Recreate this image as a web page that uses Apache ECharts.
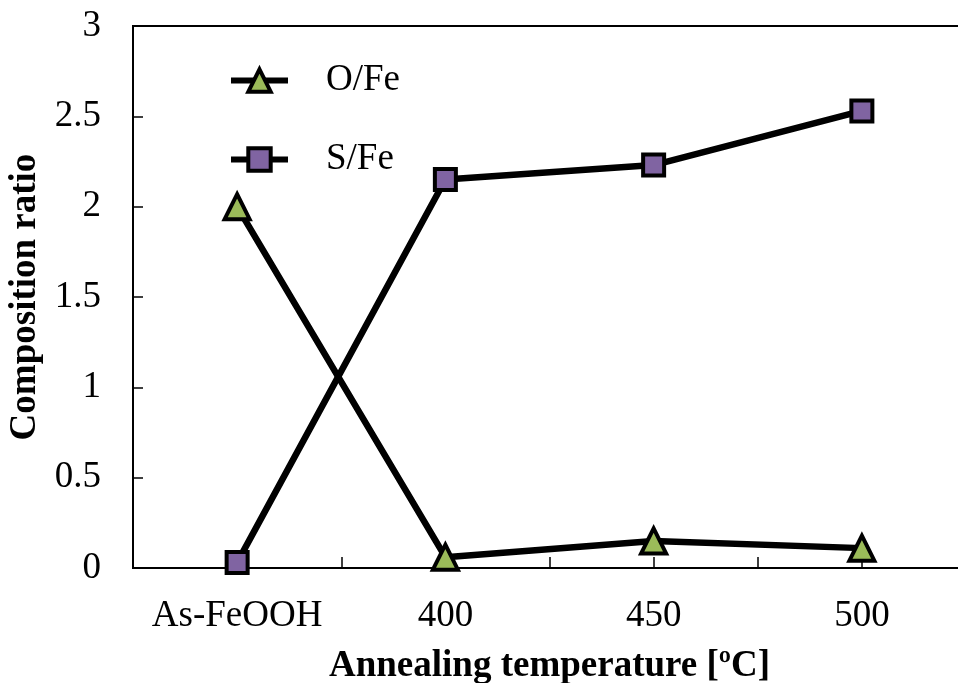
<!DOCTYPE html>
<html>
<head>
<meta charset="utf-8">
<script src="https://cdn.jsdelivr.net/npm/echarts@6/dist/echarts.min.js"></script>
<style>
  html, body { margin: 0; padding: 0; background: #fff; }
  #chart { width: 958px; height: 683px; }
</style>
</head>
<body>
<div id="chart"></div>
<script>
// samples along the x axis
const categories = ['As-FeOOH', '400', '450', '500'];
const oFe = [2.0, 0.06, 0.15, 0.11];
const sFe = [0.03, 2.15, 2.23, 2.53];
const yTicks = [0, 0.5, 1, 1.5, 2, 2.5, 3];

const font = '"Liberation Serif", "Times New Roman", serif';

// x is a value axis so ticks can sit at every half category, like the original
const pairs = (vals) => vals.map((v, i) => [i, v]);

const chart = echarts.init(document.getElementById('chart'), null, { renderer: 'canvas' });

chart.setOption({
  animation: false,
  backgroundColor: '#fff',
  // plot runs past the right edge of the picture (cropped like the original)
  grid: {
    left: 133, top: 26, width: 833, bottom: 115,
    outerBoundsMode: 'none',
    show: true, borderColor: '#000', borderWidth: 2, backgroundColor: 'transparent'
  },
  legend: {
    left: 223, top: 57,
    orient: 'vertical',
    itemWidth: 57, itemHeight: 28, itemGap: 42,
    lineStyle: { color: '#000', width: 6 },
    itemStyle: { borderColor: '#000', borderWidth: 4 },
    textStyle: { fontFamily: font, fontSize: 37, color: '#000', padding: [0, 0, 0, 33] },
    data: ['O/Fe', 'S/Fe']
  },
  xAxis: {
    type: 'value',
    min: -0.5, max: 3.5, interval: 0.5,
    name: 'Annealing temperature [ºC]',
    nameLocation: 'middle', nameGap: 80,
    nameTextStyle: { fontFamily: font, fontSize: 37, fontWeight: 'bold', color: '#000' },
    axisLine: { onZero: false, lineStyle: { color: '#000', width: 2 } },
    axisTick: { inside: true, length: 11, lineStyle: { color: '#000', width: 1.5 } },
    axisLabel: {
      margin: 30, fontFamily: font, fontSize: 37, color: '#000',
      formatter: (v) => Number.isInteger(v) && categories[v] !== undefined ? categories[v] : ''
    },
    splitLine: { show: false }
  },
  yAxis: {
    type: 'value',
    min: yTicks[0], max: yTicks[yTicks.length - 1], interval: 0.5,
    name: 'Composition ratio',
    nameLocation: 'middle', nameGap: 80, nameRotate: 90,
    nameTextStyle: { fontFamily: font, fontSize: 37, fontWeight: 'bold', color: '#000' },
    axisLine: { show: true, onZero: false, lineStyle: { color: '#000', width: 2 } },
    axisTick: { show: true, inside: true, length: 10, lineStyle: { color: '#000', width: 1.5 } },
    axisLabel: { margin: 32, fontFamily: font, fontSize: 37, color: '#000' },
    splitLine: { show: false }
  },
  series: [
    {
      name: 'S/Fe',
      type: 'line',
      data: pairs(sFe),
      symbol: 'rect',
      symbolSize: 21,
      lineStyle: { color: '#000', width: 6.5 },
      itemStyle: { color: '#8064A2', borderColor: '#000', borderWidth: 4 },
      z: 2
    },
    {
      name: 'O/Fe',
      type: 'line',
      data: pairs(oFe),
      symbol: 'triangle',
      symbolSize: 25,
      lineStyle: { color: '#000', width: 6.5 },
      itemStyle: { color: '#9BBB59', borderColor: '#000', borderWidth: 4 },
      z: 3
    }
  ]
});
</script>
</body>
</html>
